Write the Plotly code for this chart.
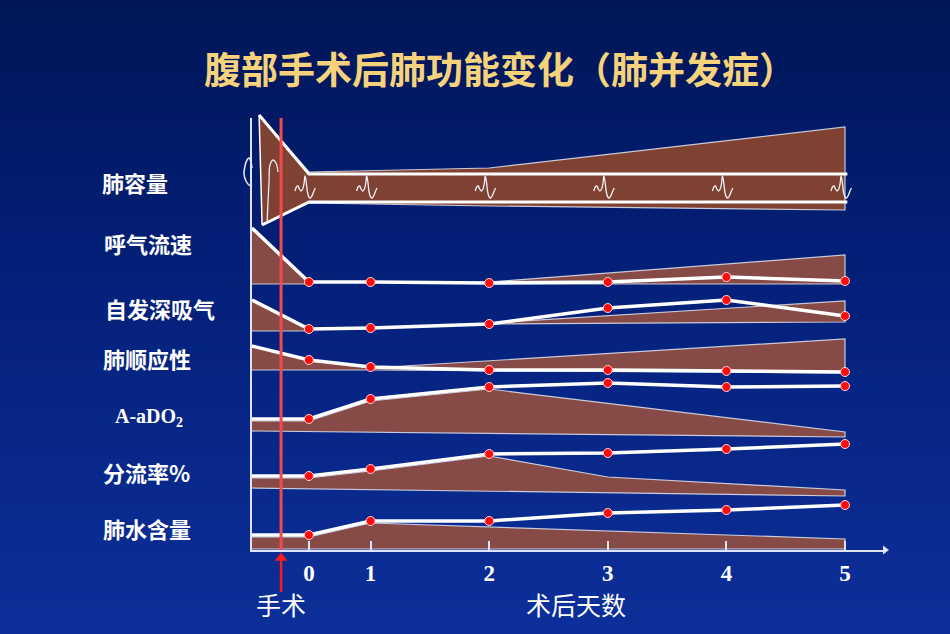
import plotly.graph_objects as go
import numpy as np

W, H = 950, 634
AX_L, AX_R, AX_B, AX_T = 252, 885, 550, 118   # axis box in pixels
PX_PER_UNIT = 118.6                           # pixels per day-unit

# ---------------- data (schematic values, y = height above the time axis) ----------
days = ["0", "1", "2", "3", "4", "5"]
day_pos = [0.48, 1, 2, 3, 4, 5]     # position of each day on the time axis
pre_pos = 0.0                       # pre-operative value position
op_pos = 0.245                      # time of surgery

row_labels = ["肺容量", "呼气流速", "自发深吸气", "肺顺应性",
              "A-aDO<sub>2</sub>", "分流率%", "肺水含量"]
row_label_px = [(100, 182), (102, 243), (103, 308), (101, 358),
                (113, 417), (101, 472), (101, 528)]

# 肺容量 (lung volume) – band and envelope
vol_band_top = 376
vol_band_bottom = 348
vol_pre_top = 435
vol_pre_bottom = 325
vol_env_x = [0.06, 0.48, 2, 5, 5, 2, 0.48, 0.085]
vol_env_y = [435, 378, 382, 423, 340, 344, 347, 325]

# 呼气流速 (expiratory flow)
flow_pre = 322
flow = [268, 268, 267, 268, 273, 269]
flow_area1_x = [0, 0.48, 0.48, 0]
flow_area1_y = [322, 268, 266, 266]
flow_area2_x = [2, 5, 5, 2]
flow_area2_y = [268, 295, 266, 266]

# 自发深吸气 (spontaneous deep breath)
deep_pre = 250
deep = [221, 222, 226, 242, 250, 234]
deep_area1_x = [0, 0.48, 0.48, 0]
deep_area1_y = [250, 221, 219, 219]
deep_area2_x = [2, 5, 5, 2]
deep_area2_y = [227, 249, 228, 226]

# 肺顺应性 (lung compliance)
comp_pre = 204
comp = [190, 183, 180, 180, 179, 178]
comp_area1_x = [0, 0.48, 1, 1, 0]
comp_area1_y = [204, 190, 183, 180, 180]
comp_area2_x = [1, 5, 5, 1]
comp_area2_y = [182, 211, 177, 180]

# A-aDO2
aado2_pre = 131
aado2 = [131, 151, 163, 167, 163, 164]
aado2_area_x = [0, 0.48, 1, 2, 5, 5, 0]
aado2_area_y = [129, 129, 149, 161, 118, 113, 119]

# 分流率%
shunt_pre = 74
shunt = [74, 81, 96, 97, 101, 106]
shunt_area_x = [0, 0.48, 1, 2, 3, 5, 5, 0]
shunt_area_y = [72, 72, 79, 94, 73, 60, 54, 62]

# 肺水含量 (lung water)
water_pre = 15
water = [15, 29, 29, 37, 40, 45]
water_area_x = [0, 0.48, 1, 5, 5, 0]
water_area_y = [13, 13, 27, 11, 1, 1]

# spirogram glyph (pixel offsets, x right / y down), used as decoration
glyph_dx = [-14, -12.5, -11, -9.5, -8, -6.2, -4.8, -4, -3, -1.5, 0, 1.5, 3, 5, 6.5]
glyph_dy = [3, -1, -2, 1, 3, 1, -5, -12, -8, 4, 9, 10, 8, 3, 0]

# ---------------- styling ----------
BROWN1 = "#7f4232"
BROWN2 = "#864a47"
EDGE = "rgba(225,228,240,0.85)"
WHITE = "#ffffff"
RED = "#ff0a0a"
AXIS = "#dfe3f5"
TITLE_C = "#f5d27b"
CJK = "Noto Sans CJK SC"


def px2x(px):
    return (px - AX_L) / PX_PER_UNIT


def py2y(py):
    return AX_B - py


def paper_x(px):
    return px / W


def paper_y(py):
    return 1 - py / H


fig = go.Figure()

# background gradient
n = 80
ys = np.linspace(py2y(H), py2y(0), n)
zs = np.linspace(0, 1, n)
fig.add_trace(go.Heatmap(
    x=[px2x(0) - 0.1, px2x(W) + 0.1], y=ys,
    z=[[v, v] for v in zs],
    colorscale=[[0, "#0c2f9a"], [0.55, "#04207a"], [1, "#001657"]],
    showscale=False, zsmooth="best", hoverinfo="skip"))


def area(xs, ys_, color):
    fig.add_trace(go.Scatter(
        x=xs, y=ys_, fill="toself", fillcolor=color, mode="lines",
        line=dict(color=EDGE, width=1.2), hoverinfo="skip", showlegend=False))


def wline(xs, ys_, width=3.5, shape="linear", color=WHITE):
    fig.add_trace(go.Scatter(
        x=xs, y=ys_, mode="lines", line=dict(color=color, width=width, shape=shape),
        hoverinfo="skip", showlegend=False))


# ---- row 1: lung volume
area(vol_env_x, vol_env_y, BROWN1)
wline([vol_env_x[0], day_pos[0], 5.02], [vol_pre_top, vol_band_top, vol_band_top], 3)
wline([vol_env_x[-1], day_pos[0], 5.02], [vol_pre_bottom, vol_band_bottom, vol_band_bottom], 3)
wline([vol_env_x[0], vol_env_x[-1]], [vol_pre_top, vol_pre_bottom], 1.5)

band_mid_py = 188
for p in day_pos:
    cx = AX_L + p * PX_PER_UNIT
    fig.add_trace(go.Scatter(
        x=[px2x(cx + d) for d in glyph_dx],
        y=[py2y(band_mid_py + d) for d in glyph_dy],
        mode="lines", line=dict(color="#f0f0f5", width=1.3, shape="spline", smoothing=0.9),
        hoverinfo="skip", showlegend=False))

# left big spirogram and inner tall stroke
left_wave_px = [(252, 186), (249, 185), (246, 181), (244, 174), (245, 166),
                (247, 160), (249, 158), (251, 162), (252, 168)]
fig.add_trace(go.Scatter(
    x=[px2x(a) for a, b in left_wave_px], y=[py2y(b) for a, b in left_wave_px],
    mode="lines", line=dict(color="#e8ecf8", width=1.5, shape="spline"),
    hoverinfo="skip", showlegend=False))
inner_px = [(278, 172), (276, 163), (273, 160), (270, 165), (269, 182), (268, 202), (267, 224)]
fig.add_trace(go.Scatter(
    x=[px2x(a) for a, b in inner_px], y=[py2y(b) for a, b in inner_px],
    mode="lines", line=dict(color="#e8ecf8", width=1.3, shape="spline"),
    hoverinfo="skip", showlegend=False))

# ---- rows 2..7 areas
area(flow_area1_x, flow_area1_y, BROWN2)
area(flow_area2_x, flow_area2_y, BROWN2)
area(deep_area1_x, deep_area1_y, BROWN2)
area(deep_area2_x, deep_area2_y, BROWN2)
area(comp_area1_x, comp_area1_y, BROWN2)
area(comp_area2_x, comp_area2_y, BROWN2)
area(aado2_area_x, aado2_area_y, BROWN2)
area(shunt_area_x, shunt_area_y, BROWN2)
area(water_area_x, water_area_y, BROWN2)

series = [(flow_pre, flow), (deep_pre, deep), (comp_pre, comp),
          (aado2_pre, aado2), (shunt_pre, shunt), (water_pre, water)]
for pre, vals in series:
    wline([pre_pos] + day_pos, [pre] + vals, 3.5)

# surgery line
wline([op_pos, op_pos], [py2y(AX_T), 0], 3, color="#f24a4a")

# red dots
for pre, vals in series:
    fig.add_trace(go.Scatter(
        x=day_pos, y=vals, mode="markers",
        marker=dict(color=RED, size=9, line=dict(color="#ffd8d8", width=1)),
        hoverinfo="skip", showlegend=False))

# surgery arrow below the axis
wline([op_pos, op_pos], [py2y(592), py2y(560)], 2.5, color="#ff1a1a")
fig.add_trace(go.Scatter(
    x=[op_pos], y=[py2y(558)], mode="markers",
    marker=dict(symbol="triangle-up", size=11, color="#ff1a1a"),
    hoverinfo="skip", showlegend=False))
# arrowhead at the end of the time axis
fig.add_trace(go.Scatter(
    x=[px2x(885)], y=[0], mode="markers",
    marker=dict(symbol="triangle-right", size=8, color=AXIS),
    hoverinfo="skip", showlegend=False))

# invisible trace to anchor the time axis
fig.add_trace(go.Scatter(x=[0], y=[0], xaxis="x2", yaxis="y2", mode="markers",
                         marker=dict(opacity=0), hoverinfo="skip", showlegend=False))

annotations = [
    dict(text="腹部手术后肺功能变化（肺并发症）", x=paper_x(500), y=paper_y(68),
         xref="paper", yref="paper", showarrow=False, xanchor="center", yanchor="middle",
         font=dict(family=CJK, size=37, color=TITLE_C, weight="bold")),
    dict(text="手术", x=paper_x(281), y=paper_y(604), xref="paper", yref="paper",
         showarrow=False, xanchor="center", yanchor="middle",
         font=dict(family=CJK, size=25, color=WHITE)),
    dict(text="术后天数", x=paper_x(576), y=paper_y(604), xref="paper", yref="paper",
         showarrow=False, xanchor="center", yanchor="middle",
         font=dict(family=CJK, size=25, color=WHITE)),
]
for lab, (lx, ly) in zip(row_labels, row_label_px):
    latin = lab.startswith("A-")
    annotations.append(dict(
        text=lab, x=paper_x(lx), y=paper_y(ly), xref="paper", yref="paper",
        showarrow=False, xanchor="left", yanchor="middle",
        font=dict(family="Liberation Serif" if latin else CJK,
                  size=20 if latin else 22, color=WHITE, weight="bold")))

fig.update_layout(
    width=W, height=H, margin=dict(l=0, r=0, t=0, b=0),
    paper_bgcolor="#04207a", plot_bgcolor="rgba(0,0,0,0)",
    showlegend=False, annotations=annotations,
    xaxis=dict(domain=[0, 1], range=[px2x(0), px2x(W)], visible=False, fixedrange=True),
    yaxis=dict(domain=[0, 1], range=[py2y(H), py2y(0)], visible=False, fixedrange=True),
    xaxis2=dict(domain=[AX_L / W, AX_R / W], range=[0, px2x(AX_R)], anchor="y2",
                showline=True, linecolor=AXIS, linewidth=2, showgrid=False, zeroline=False,
                ticks="inside", ticklen=9, tickwidth=2, tickcolor=AXIS,
                tickvals=day_pos, ticktext=days, ticklabelstandoff=1,
                tickfont=dict(family="Liberation Serif", size=23, color=WHITE, weight="bold")),
    yaxis2=dict(domain=[1 - AX_B / H, 1 - AX_T / H], range=[0, py2y(AX_T)], anchor="x2",
                showline=True, linecolor=AXIS, linewidth=2, showgrid=False, zeroline=False,
                showticklabels=False, ticks=""),
)

fig.write_html("out.html")
